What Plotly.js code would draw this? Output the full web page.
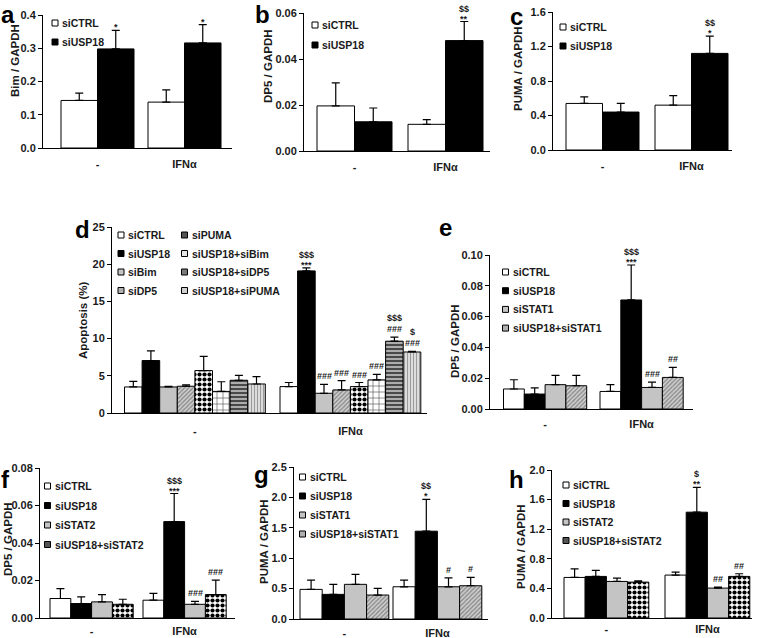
<!DOCTYPE html>
<html><head><meta charset="utf-8">
<script src="https://cdn.plot.ly/plotly-3.0.1.min.js"></script>
<style>body{margin:0;background:#fff}#chart{width:765px;height:638px}</style>
</head><body><div id="chart"></div>
<script>
// ---------------- DATA ----------------
const groups = ['-', 'IFNα'];

// a: Bim / GAPDH
const a_names = ['siCTRL', 'siUSP18'];
const a_means = [[0.143, 0.138], [0.298, 0.316]];
const a_errs  = [[0.022, 0.037], [0.056, 0.055]];
const a_sig   = [['', ''], ['*', '*']];

// b: DP5 / GAPDH
const b_names = ['siCTRL', 'siUSP18'];
const b_means = [[0.0196, 0.0116], [0.0127, 0.048]];
const b_errs  = [[0.0100, 0.0020], [0.0060, 0.0083]];
const b_sig   = [['', ''], ['', '$$<br>**']];

// c: PUMA / GAPDH
const c_names = ['siCTRL', 'siUSP18'];
const c_means = [[0.54, 0.52], [0.44, 1.12]];
const c_errs  = [[0.077, 0.11], [0.10, 0.20]];
const c_sig   = [['', ''], ['', '$$<br>*']];

// d: Apoptosis (%)
const d_names = ['siCTRL', 'siUSP18', 'siBim', 'siDP5', 'siPUMA', 'siUSP18+siBim', 'siUSP18+siDP5', 'siUSP18+siPUMA'];
const d_means = [[3.5, 3.55], [7.05, 19.1], [3.5, 2.65], [3.6, 3.1], [5.7, 3.55], [2.9, 4.45], [4.4, 9.65], [3.9, 8.2]];
const d_errs  = [[0.75, 0.55], [1.3, 0.4], [0.08, 1.2], [0.2, 1.25], [1.9, 0.55], [1.3, 0.75], [0.65, 0.55], [1.0, 0.1]];
const d_sig   = [['', ''], ['', '$$$<br>***'], ['', '###'], ['', '###'], ['', '###'], ['', '###'], ['', '$$$<br>###'], ['', '$<br>###']];

// e: DP5 / GAPDH (STAT1)
const e_names = ['siCTRL', 'siUSP18', 'siSTAT1', 'siUSP18+siSTAT1'];
const e_means = [[0.0130, 0.0114], [0.0097, 0.0708], [0.0158, 0.0140], [0.0151, 0.0205]];
const e_errs  = [[0.0060, 0.0044], [0.0040, 0.0227], [0.0060, 0.0035], [0.0067, 0.0065]];
const e_sig   = [['', ''], ['', '$$$<br>***'], ['', '###'], ['', '##']];

// f: DP5 / GAPDH (STAT2)
const f_names = ['siCTRL', 'siUSP18', 'siSTAT2', 'siUSP18+siSTAT2'];
const f_means = [[0.0104, 0.0095], [0.0077, 0.0514], [0.0086, 0.0073], [0.0073, 0.0125]];
const f_errs  = [[0.0053, 0.0036], [0.0036, 0.0150], [0.0039, 0.0016], [0.0027, 0.0077]];
const f_sig   = [['', ''], ['', '$$$<br>***'], ['', '###'], ['', '###']];

// g: PUMA / GAPDH (STAT1)
const g_names = ['siCTRL', 'siUSP18', 'siSTAT1', 'siUSP18+siSTAT1'];
const g_means = [[0.487, 0.53], [0.405, 1.444], [0.57, 0.53], [0.394, 0.547]];
const g_errs  = [[0.153, 0.11], [0.165, 0.525], [0.164, 0.148], [0.11, 0.137]];
const g_sig   = [['', ''], ['', '$$<br>*'], ['', '#'], ['', '#']];

// h: PUMA / GAPDH (STAT2)
const h_names = ['siCTRL', 'siUSP18', 'siSTAT2', 'siUSP18+siSTAT2'];
const h_means = [[0.548, 0.58], [0.562, 1.43], [0.494, 0.404], [0.485, 0.562]];
const h_errs  = [[0.117, 0.04], [0.081, 0.336], [0.045, 0.014], [0.018, 0.036]];
const h_sig   = [['', ''], ['', '$<br>**'], ['', '##'], ['', '##']];

const y_titles = {a: 'Bim / GAPDH', b: 'DP5 / GAPDH', c: 'PUMA / GAPDH', d: 'Apoptosis (%)',
                  e: 'DP5 / GAPDH', f: 'DP5 / GAPDH', g: 'PUMA / GAPDH', h: 'PUMA / GAPDH'};

// ---------------- STYLE ----------------
const hatch = {shape: '/', fgcolor: '#8a8a8a', bgcolor: '#d0d0d0', size: 3, solidity: 0.45};
const checker = {shape: '.', fgcolor: '#000000', bgcolor: '#ffffff', size: 5, solidity: 0.55};
const STY = {
  'siCTRL': {color: '#ffffff', sw: '#ffffff'},
  'siUSP18': {color: '#000000', sw: '#000000'},
  'siBim': {color: '#c4c4c4', sw: '#c4c4c4'},
  'siSTAT1': {color: '#c4c4c4', sw: '#c4c4c4'},
  'siSTAT2': {color: '#c4c4c4', sw: '#c4c4c4'},
  'siDP5': {pattern: hatch, sw: '#b0b0b0'},
  'siUSP18+siSTAT1': {pattern: hatch, sw: '#b0b0b0'},
  'siPUMA': {pattern: checker, sw: '#555555'},
  'siUSP18+siSTAT2': {pattern: checker, sw: '#555555'},
  'siUSP18+siBim': {pattern: {shape: '+', fgcolor: '#505050', bgcolor: '#ffffff', size: 6, solidity: 0.2}, sw: '#e6e6e6'},
  'siUSP18+siDP5': {pattern: {shape: '-', fgcolor: '#303030', bgcolor: '#acacac', size: 4, solidity: 0.4}, sw: '#7a7a7a'},
  'siUSP18+siPUMA': {pattern: {shape: '|', fgcolor: '#9a9a9a', bgcolor: '#dcdcdc', size: 3, solidity: 0.35}, sw: '#cfcfcf'}
};

const W = 765, H = 638;
const FONT = 'Arial, "Liberation Sans", sans-serif';
const TXT = '#1a1a1a';
const px = x => x / W, py = y => 1 - y / H;

// panel geometry in pixels (layout only)
const PANELS = [
  {k: 'a', names: a_names, means: a_means, errs: a_errs, sig: a_sig, ax0: 43, ax1: 232, top: 15, bot: 148, first: 61, w: 36.5, g2: 148, ymax: 0.4, dtick: 0.1, fmt: '.1f',
   tx: 15, ty: 61, lx: 8, ly: 15, leg: [[55, 23]], dy: 19, lab: 15},
  {k: 'b', names: b_names, means: b_means, errs: b_errs, sig: b_sig, ax0: 304, ax1: 490, top: 13, bot: 151, first: 317, w: 37.5, g2: 408, ymax: 0.06, dtick: 0.02, fmt: '.2f',
   tx: 268, ty: 66, lx: 262, ly: 15, leg: [[315, 25]], dy: 20, lab: 15},
  {k: 'c', names: c_names, means: c_means, errs: c_errs, sig: c_sig, ax0: 553, ax1: 732, top: 12, bot: 150, first: 566, w: 36.5, g2: 655, ymax: 1.6, dtick: 0.4, fmt: '.1f',
   tx: 518, ty: 69, lx: 516, ly: 16, leg: [[563, 27]], dy: 19, lab: 15},
  {k: 'd', names: d_names, means: d_means, errs: d_errs, sig: d_sig, ax0: 112, ax1: 427, top: 227, bot: 413, first: 124.5, w: 17.6, g2: 280, ymax: 25, dtick: 5, fmt: 'd',
   tx: 83, ty: 321, lx: 82, ly: 229, leg: [[121, 235], [184.5, 235]], dy: 18.5, lab: 17},
  {k: 'e', names: e_names, means: e_means, errs: e_errs, sig: e_sig, ax0: 490, ax1: 693, top: 255, bot: 409, first: 503.5, w: 20.8, g2: 600, ymax: 0.10, dtick: 0.02, fmt: '.2f',
   tx: 455, ty: 341, lx: 445, ly: 227, leg: [[505.5, 272]], dy: 18.7, lab: 14},
  {k: 'f', names: f_names, means: f_means, errs: f_errs, sig: f_sig, ax0: 40, ax1: 235, top: 468, bot: 618, first: 50, w: 20.8, g2: 143, ymax: 0.08, dtick: 0.02, fmt: '.2f',
   tx: 8, ty: 539, lx: 5, ly: 479, leg: [[47.5, 486]], dy: 19.5, lab: 12},
  {k: 'g', names: g_names, means: g_means, errs: g_errs, sig: g_sig, ax0: 294, ax1: 488, top: 467, bot: 619, first: 300, w: 22.2, g2: 393, ymax: 2.5, dtick: 0.5, fmt: '.1f',
   tx: 264, ty: 542, lx: 261, ly: 474, leg: [[302.5, 477]], dy: 19, lab: 13},
  {k: 'h', names: h_names, means: h_means, errs: h_errs, sig: h_sig, ax0: 552, ax1: 752, top: 470, bot: 618, first: 564, w: 21.2, g2: 665, ymax: 2.0, dtick: 0.4, fmt: '.1f',
   tx: 521, ty: 547, lx: 516, ly: 479, leg: [[566, 485]], dy: 18.5, lab: 10}
];

const traces = [];
const layout = {
  width: W, height: H, margin: {l: 0, r: 0, t: 0, b: 0},
  paper_bgcolor: '#ffffff', plot_bgcolor: 'rgba(0,0,0,0)',
  barmode: 'overlay', showlegend: false,
  font: {family: FONT, color: TXT, size: 11, weight: 'bold'},
  annotations: [], shapes: []
};

PANELS.forEach((p, idx) => {
  const n = p.names.length;
  const G = (p.g2 - p.first) / p.w - n;
  const step = n + G;
  const xid = idx === 0 ? 'x' : 'x' + (idx + 1);
  const yid = idx === 0 ? 'y' : 'y' + (idx + 1);
  const xa = idx === 0 ? 'xaxis' : 'xaxis' + (idx + 1);
  const ya = idx === 0 ? 'yaxis' : 'yaxis' + (idx + 1);

  p.names.forEach((nm, i) => {
    const xs = groups.map((g, gi) => gi * step + i);
    const st = STY[nm];
    const marker = {color: st.color || '#ffffff', line: {color: '#000000', width: 1}};
    if (st.pattern) marker.pattern = Object.assign({fillmode: 'replace'}, st.pattern);
    traces.push({
      type: 'bar', name: nm, x: xs, y: p.means[i], width: 1,
      xaxis: xid, yaxis: yid, marker: marker,
      error_y: {type: 'data', symmetric: false, array: p.errs[i], arrayminus: p.means[i].map(() => 0),
                color: '#000000', thickness: 1.2, width: 4},
      hoverinfo: 'name+y'
    });
    // significance marks (one annotation per line, stacked upward)
    groups.forEach((g, gi) => {
      const t = p.sig[i][gi];
      if (!t) return;
      const lines = t.split('<br>').reverse();
      const starFirst = lines[0].charAt(0) === '*';
      lines.forEach((ln, li) => {
        let ys = starFirst ? -3 : 2;
        if (li > 0) ys += starFirst ? 10 : 11;
        layout.annotations.push({
          xref: xid, yref: yid, x: xs[gi], y: p.means[i][gi] + p.errs[i][gi],
          text: ln, showarrow: false, xanchor: 'center', yanchor: 'bottom', yshift: ys, borderpad: 0,
          font: {family: FONT, size: 9, color: TXT, weight: 'bold'}
        });
      });
    });
    // legend entry
    const col = Math.floor(i / 4), row = i % 4;
    const lp = p.leg[Math.min(col, p.leg.length - 1)];
    const cx = lp[0], cy = lp[1] + row * p.dy;
    layout.shapes.push({type: 'rect', xref: 'paper', yref: 'paper',
      x0: px(cx - 3), x1: px(cx + 3), y0: py(cy + 3), y1: py(cy - 3),
      fillcolor: st.sw, line: {color: '#000000', width: 1}});
    layout.annotations.push({xref: 'paper', yref: 'paper', x: px(cx + 5), y: py(cy),
      xanchor: 'left', yanchor: 'middle', showarrow: false, text: nm,
      font: {family: FONT, size: 10.5, color: TXT, weight: 'bold'}});
  });

  layout[xa] = {
    domain: [px(p.ax0), px(p.ax1)], anchor: yid,
    range: [(p.ax0 - p.first) / p.w - 0.5, (p.ax1 - p.first) / p.w - 0.5],
    showline: true, linecolor: '#000000', linewidth: 1, zeroline: false, showgrid: false,
    ticks: '', tickvals: groups.map((g, gi) => gi * step + (n - 1) / 2), ticktext: groups,
    ticklabelstandoff: p.lab - 9, tickfont: {family: FONT, size: 11, color: TXT, weight: 'bold'},
    fixedrange: true
  };
  layout[ya] = {
    domain: [py(p.bot), py(p.top)], anchor: xid,
    range: [0, p.ymax], dtick: p.dtick, tick0: 0, tickformat: p.fmt,
    showline: true, linecolor: '#000000', linewidth: 1, zeroline: false, showgrid: false,
    ticks: 'outside', ticklen: 4, tickcolor: '#000000', tickwidth: 1,
    tickfont: {family: FONT, size: 11, color: TXT, weight: 'bold'}, fixedrange: true
  };
  // y-axis title
  layout.annotations.push({xref: 'paper', yref: 'paper', x: px(p.tx), y: py(p.ty),
    xanchor: 'center', yanchor: 'middle', textangle: -90, showarrow: false, text: y_titles[p.k],
    font: {family: FONT, size: 11.5, color: TXT, weight: 'bold'}});
  // panel letter
  layout.annotations.push({xref: 'paper', yref: 'paper', x: px(p.lx), y: py(p.ly),
    xanchor: 'center', yanchor: 'middle', showarrow: false, text: p.k,
    font: {family: FONT, size: 24, color: '#000000', weight: 'bold'}});
});

Plotly.newPlot('chart', traces, layout, {displayModeBar: false, staticPlot: true});
</script>
</body></html>
